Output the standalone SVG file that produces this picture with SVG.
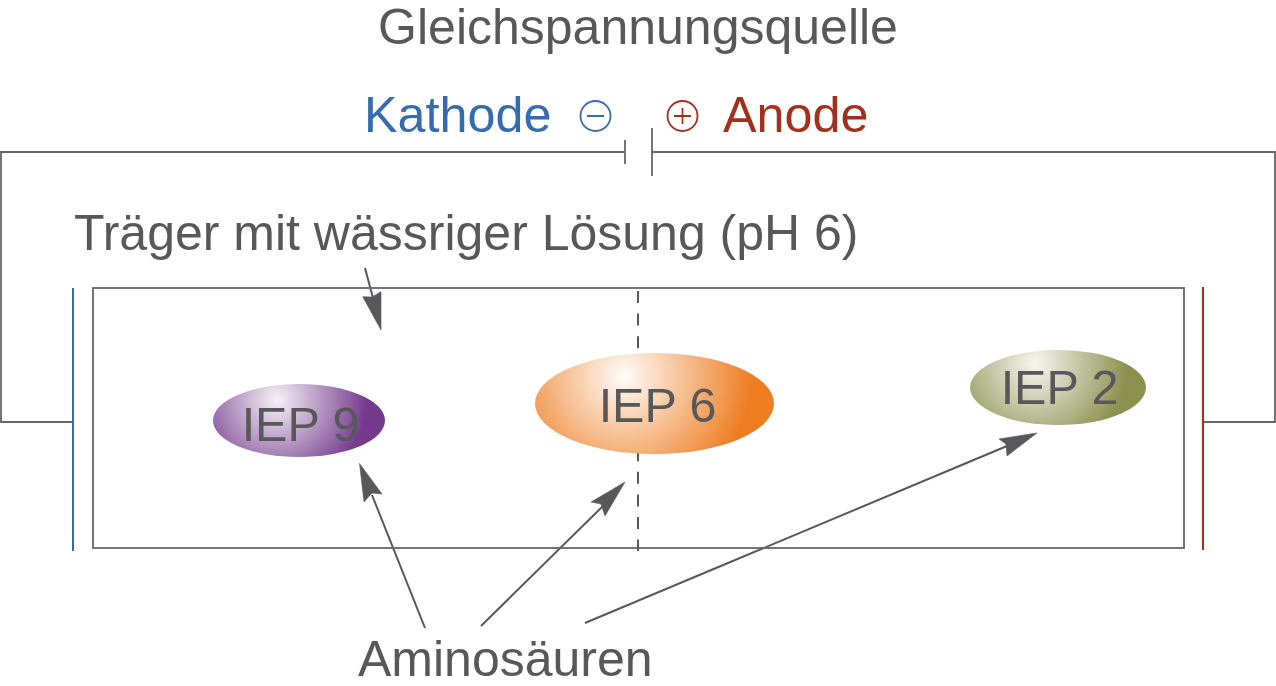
<svg xmlns="http://www.w3.org/2000/svg" width="1276" height="686" viewBox="0 0 1276 686">
<style>
text{font-family:"Liberation Sans",Arial,sans-serif;font-size:50px;fill:#58585a}
.big{font-size:50.300px}
.iep{font-size:48.500px}
.w{fill:none;stroke:#666;stroke-width:1.8}
.a{fill:none;stroke:#58585a;stroke-width:2}
.h{fill:#58585a;stroke:#58585a;stroke-width:0.6;stroke-linejoin:miter}
</style>
<defs>
<radialGradient id="g9" gradientUnits="userSpaceOnUse" cx="277" cy="400" r="90"><stop offset="0" stop-color="#f6f2f8"/><stop offset="1" stop-color="#743a8c"/></radialGradient>
<radialGradient id="g6" gradientUnits="userSpaceOnUse" cx="624" cy="376" r="128"><stop offset="0" stop-color="#fffcf9"/><stop offset="1" stop-color="#ee7d22"/></radialGradient>
<radialGradient id="g2" gradientUnits="userSpaceOnUse" cx="1035" cy="364" r="92"><stop offset="0" stop-color="#f7f7f2"/><stop offset="1" stop-color="#8d9150"/></radialGradient>
</defs>
<text x="638" y="43.500" text-anchor="middle" id="t-title">Gleichspannungsquelle</text>
<text x="364" y="132" class="big" style="fill:#366cae" id="t-kathode">Kathode</text>
<text x="723" y="132" class="big" style="fill:#a1301c" id="t-anode">Anode</text>
<text x="74" y="249.500" id="t-traeger">Träger mit wässriger Lösung (pH 6)</text>
<text x="358" y="676" id="t-amino">Aminosäuren</text>
<g id="connectors">
<path class="w" d="M625 152H1V422H73"/>
<path class="w" d="M625 140V164"/>
<path class="w" d="M652 128V176"/>
<path class="w" d="M652 152H1275V422H1204"/>
<path class="a" d="M365 268L373 298"/><polygon class="h" points="381,330 362.700,296.700 372,297 381,291.700"/>
<path class="a" d="M425 628L372 495"/><polygon class="h" points="359.500,463.500 382,494 372,493 364,502"/>
<path class="a" d="M481 626L603 506"/><polygon class="h" points="625,482 591,502 601,504 605,516"/>
<path class="a" d="M585 623L1007 446"/><polygon class="h" points="1037,433 999,439 1006,444 1007,456"/>
</g>
<g id="carrier"><rect class="w" x="93" y="288" width="1091" height="260"/>
<path d="M638 291V551" fill="none" stroke="#58585a" stroke-width="2" stroke-dasharray="12 10.600"/></g>
<g id="cathode"><path d="M73 288V551" stroke="#366cae" stroke-width="2" fill="none"/>
<circle cx="595.500" cy="116" r="15" fill="none" stroke="#366cae" stroke-width="1.800"/><path d="M587 116H604" stroke="#366cae" stroke-width="2"/></g>
<g id="anode"><path d="M1203 287V550" stroke="#a1301c" stroke-width="2" fill="none"/>
<circle cx="682.500" cy="116" r="15" fill="none" stroke="#a1301c" stroke-width="1.800"/><path d="M674 116H691M682.500 108V124" stroke="#a1301c" stroke-width="1.800"/></g>
<g id="iep9"><ellipse cx="299" cy="420.500" rx="86" ry="36.500" fill="url(#g9)"/><text x="300.500" y="441" class="iep" text-anchor="middle">IEP 9</text></g>
<g id="iep6"><ellipse cx="654.500" cy="403.500" rx="119.500" ry="50.500" fill="url(#g6)"/><text x="657.500" y="421.500" class="iep" text-anchor="middle">IEP 6</text></g>
<g id="iep2"><ellipse cx="1058" cy="387.500" rx="88" ry="37.500" fill="url(#g2)"/><text x="1059.500" y="404" class="iep" text-anchor="middle">IEP 2</text></g>
</svg>
